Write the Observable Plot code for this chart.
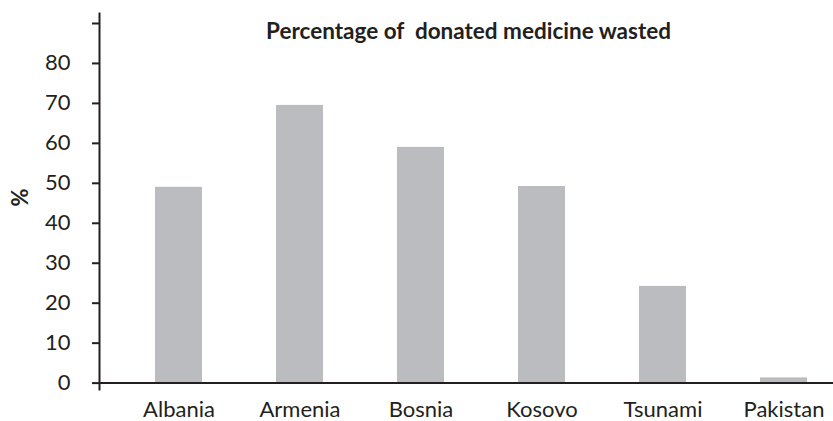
<!DOCTYPE html>
<html><head><meta charset="utf-8">
<script src="https://cdn.jsdelivr.net/npm/d3@7"></script>
<script src="https://cdn.jsdelivr.net/npm/@observablehq/plot@0.6"></script>
<style>body{margin:0;background:#fff;overflow:hidden}</style>
</head><body><div id="chart"></div>
<script>
const categories = ["Albania", "Armenia", "Bosnia", "Kosovo", "Tsunami", "Pakistan"];
const values = [49, 69.5, 59, 49.2, 24.2, 1.3];
const yTicks = [0, 10, 20, 30, 40, 50, 60, 70, 80, 90];
const yLabel = "%";
const title = "Percentage of  donated medicine wasted";

const data = categories.map((c, i) => ({country: c, pct: values[i]}));
const ink = "#231f20";
const font = "Lato";

const chart = Plot.plot({
  width: 833,
  height: 421,
  marginLeft: 99,
  marginRight: 0,
  marginTop: 13,
  marginBottom: 32,
  style: {fontFamily: font, color: ink, background: "#fff"},
  x: {type: "band", domain: categories, range: [154.5, 807.5], paddingInner: 0.612, paddingOuter: 0},
  y: {domain: [-1.6, 92.5]},
  marks: [
    Plot.barY(data, {x: "country", y: "pct", fill: "#bbbcc0"}),
    Plot.frame({anchor: "left", stroke: ink, strokeWidth: 2}),
    Plot.ruleY([0], {stroke: ink, strokeWidth: 2}),
    Plot.axisY({ticks: yTicks, tickSize: 7, tickPadding: 22, strokeWidth: 2, stroke: ink,
      tickFormat: d => d === 90 ? "" : String(d), fontSize: 22, label: null}),
    Plot.axisX({tickSize: 0, tickPadding: 12, fontSize: 22, label: null}),
    Plot.text([title], {frameAnchor: "top", lineAnchor: "bottom", dy: 25, dx: 2, fontSize: 22.5, fontWeight: "bold", fill: ink}),
    Plot.text([yLabel], {frameAnchor: "left", dx: -79, dy: 5, rotate: -90, fontSize: 22, fontWeight: "bold", fill: ink})
  ]
});
document.getElementById("chart").appendChild(chart);
</script>
</body></html>
